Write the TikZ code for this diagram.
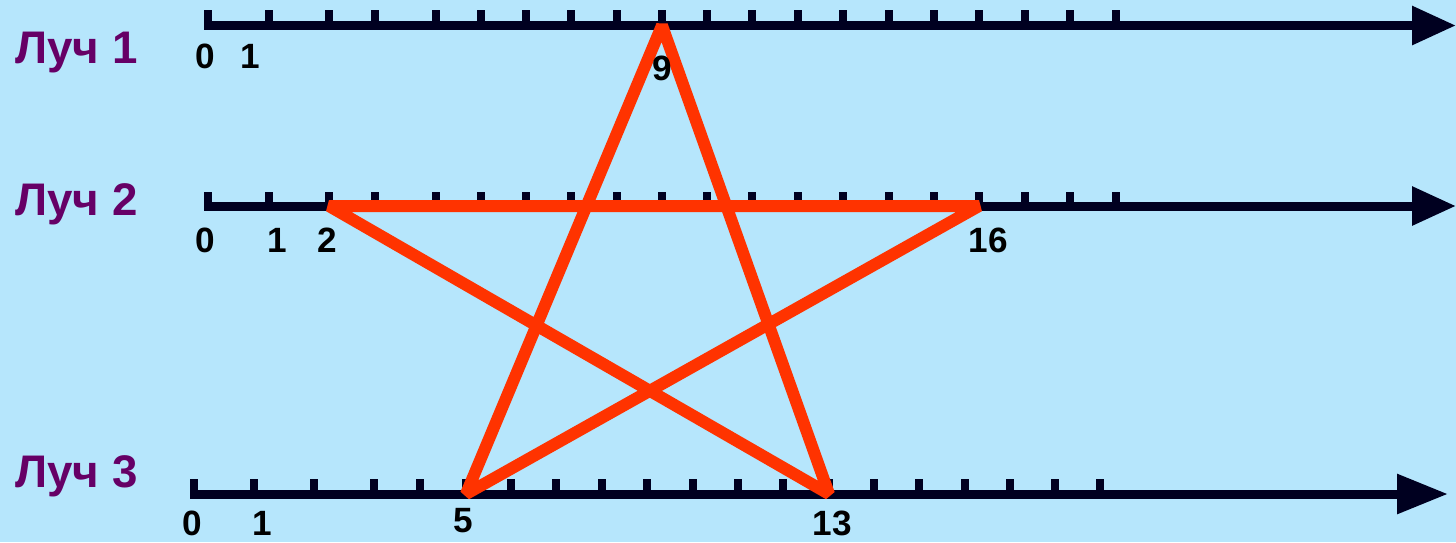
\documentclass[tikz,border=0pt]{standalone}
\usepackage{fontspec}
\setmainfont{Liberation Sans}
\usepackage{tikz}
\usetikzlibrary{arrows.meta}
\definecolor{SkyBg}{RGB}{182,230,252}
\definecolor{RayNavy}{RGB}{0,0,32}
\definecolor{StarRed}{RGB}{255,51,0}
\definecolor{LabelPurple}{RGB}{102,0,102}

\begin{document}
\begin{tikzpicture}[x=0.02cm, y=-0.02cm,
          ray/.style={RayNavy, line width=0.18cm,
                      -{Triangle[length=0.88cm, width=0.74cm]}},
          raytick/.style={RayNavy, line width=0.16cm},
          star/.style={StarRed, line width=0.24cm, line join=bevel},
          lbl/.style={font=\fontsize{26}{30}\selectfont\bfseries,
                      text=LabelPurple, anchor=base west, inner sep=0pt},
          num/.style={font=\fontsize{20}{24}\selectfont\bfseries,
                      anchor=base, inner sep=0pt}
        ]
        \fill[SkyBg] (0,0) rectangle (1456,542);
        \useasboundingbox (0,0) rectangle (1456,542);

        % Ray 1
        \coordinate (r1s) at (204,25.5);
        \coordinate (r1e) at (1456,25.5);
        \foreach \x in {208,269,329,375,436,481,526,571,617,662,
                        707,752,798,843,889,934,979,1025,1070,1116}
          \draw[raytick] (\x,10) -- (\x,25.5);
        \draw[ray] (r1s) -- (r1e);

        % Ray 2
        \coordinate (r2s) at (204,206);
        \coordinate (r2e) at (1456,206);
        \foreach \x in {208,269,329,375,436,481,526,571,617,662,
                        707,752,798,843,889,934,979,1025,1070,1116}
          \draw[raytick] (\x,192) -- (\x,206);
        \draw[ray] (r2s) -- (r2e);

        % Ray 3
        \coordinate (r3s) at (190,494);
        \coordinate (r3e) at (1448,494);
        \foreach \x in {194,254,314,374,420,466,511,556,602,647,
                        693,738,783,829,874,919,965,1010,1055,1100}
          \draw[raytick] (\x,479) -- (\x,494);
        \draw[ray, -{Triangle[length=1.02cm, width=0.76cm]}] (r3s) -- (r3e);

        % Star
        \coordinate (p9) at (662,25.5);
        \coordinate (p2) at (329,206);
        \coordinate (p16) at (979,206);
        \coordinate (p5) at (466,494);
        \coordinate (p13) at (829,494);
        \draw[star] (p9) -- (p5) -- (p16) -- (p2) -- (p13) -- cycle;

        % Labels
        \node[lbl] (l1) at (15,63) {Луч 1};
        \node[lbl] (l2) at (15,215) {Луч 2};
        \node[lbl] (l3) at (15,487) {Луч 3};

        \node[num] (a0) at (205,68) {0};
        \node[num] (a1) at (250,68) {1};
        \node[num] (a9) at (662,80) {9};

        \node[num] (b0) at (205,252) {0};
        \node[num] (b1) at (277,252) {1};
        \node[num] (b2) at (327,252) {2};
        \node[num] (b16) at (988,252) {16};

        \node[num] (c0) at (192,535) {0};
        \node[num] (c1) at (262,535) {1};
        \node[num] (c5) at (463,532) {5};
        \node[num] (c13) at (832,535) {13};
      \end{tikzpicture}
\end{document}
